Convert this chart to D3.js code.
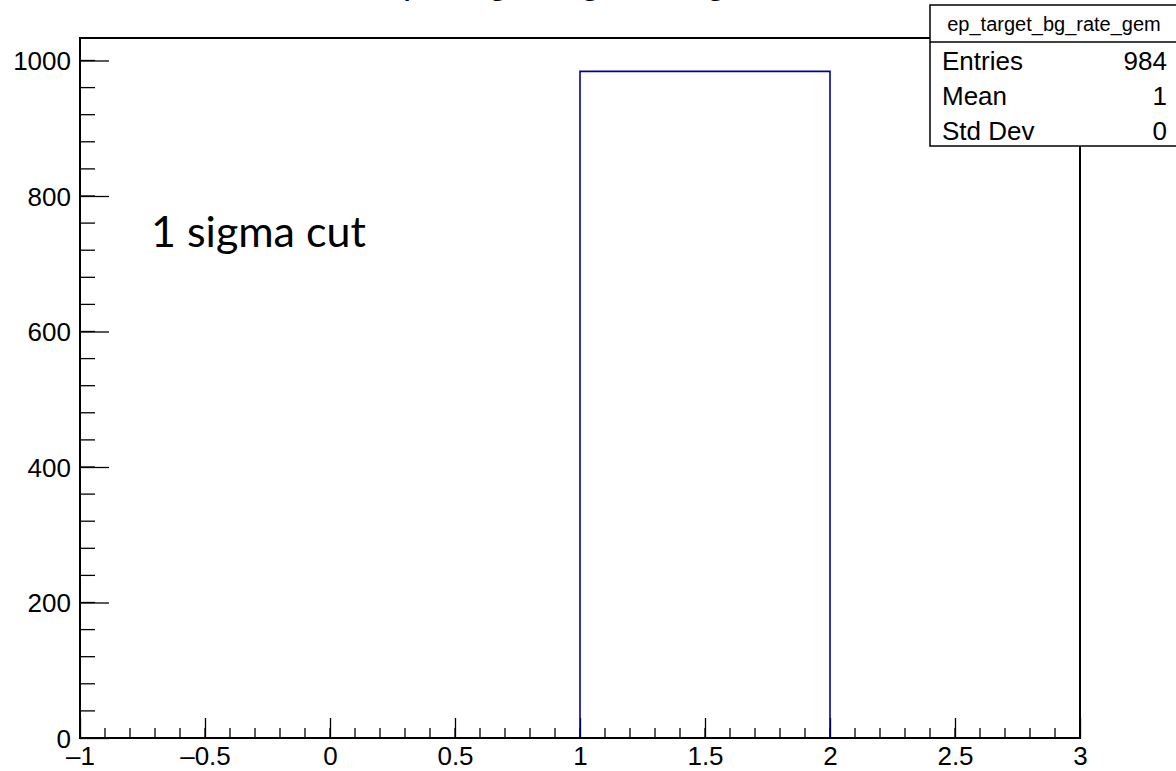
<!DOCTYPE html>
<html>
<head>
<meta charset="utf-8">
<script src="https://cdn.jsdelivr.net/npm/d3@7"></script>
<style>
  body { margin: 0; background: #fff; }
  svg { display: block; }
</style>
</head>
<body>
<div id="chart"></div>
<script>
var w = 1176;
var h = 771;

// histogram bins (low edges) and contents
var binEdges = [-1, 0, 1, 2, 3];
var binCounts = [0, 0, 984, 0];

var xTicks = [-1, -0.5, 0, 0.5, 1, 1.5, 2, 2.5, 3];
var yTicks = [0, 200, 400, 600, 800, 1000];

var histName = "ep_target_bg_rate_gem";
var statLabels = ["Entries", "Mean", "Std Dev"];
var statValues = ["984", "1", "0"];
var note = "1 sigma cut";

var frame = {left: 80, right: 1080, top: 38, bottom: 738};

var x = d3.scaleLinear().domain([-1, 3]).range([frame.left, frame.right]);
var y = d3.scaleLinear().domain([0, 984 * 1.05]).range([frame.bottom, frame.top]);

var svg = d3.select("#chart")
            .append("svg")
                .attr("width", w)
                .attr("height", h);

var helv = "'Liberation Sans', Arial, Helvetica, sans-serif";

// title, mostly off the top of the picture
svg.append("text")
    .attr("x", 580)
    .attr("y", -7)
    .attr("text-anchor", "middle")
    .style("font-family", helv)
    .style("font-size", "37px")
    .text(histName);

// minor ticks
var xMinor = d3.range(-1, 3.0001, 0.1);
var yMinor = d3.range(0, 1033, 40);

svg.append("g").selectAll("line")
    .data(xMinor)
    .enter().append("line")
        .attr("x1", function(d) { return x(d); })
        .attr("x2", function(d) { return x(d); })
        .attr("y1", frame.bottom)
        .attr("y2", frame.bottom - 10)
        .attr("stroke", "#000")
        .attr("stroke-width", 1.3);

svg.append("g").selectAll("line")
    .data(yMinor)
    .enter().append("line")
        .attr("x1", frame.left)
        .attr("x2", frame.left + 15)
        .attr("y1", function(d) { return y(d); })
        .attr("y2", function(d) { return y(d); })
        .attr("stroke", "#000")
        .attr("stroke-width", 1.3);

// major ticks via d3 axes
var xAxis = svg.append("g")
    .attr("transform", "translate(0," + frame.bottom + ")")
    .call(d3.axisTop(x).tickValues(xTicks).tickSize(20).tickFormat(""));
var xLab = svg.append("g")
    .attr("transform", "translate(0," + frame.bottom + ")")
    .call(d3.axisBottom(x).tickValues(xTicks).tickSize(0).tickPadding(9)
        .tickFormat(function(d) { return d < 0 ? "\u2013" + Math.abs(d) : d; }));
var yAxis = svg.append("g")
    .attr("transform", "translate(" + frame.left + ",0)")
    .call(d3.axisRight(y).tickValues(yTicks).tickSize(29).tickFormat(""));
var yLab = svg.append("g")
    .attr("transform", "translate(" + frame.left + ",0)")
    .call(d3.axisLeft(y).tickValues(yTicks).tickSize(0).tickPadding(9)
        .tickFormat(d3.format("d")));

[xAxis, xLab, yAxis, yLab].forEach(function(g) {
    g.select(".domain").remove();
    g.selectAll("line").attr("stroke", "#000").attr("stroke-width", 1.3);
    g.selectAll("text")
        .attr("fill", "#000")
        .style("font-family", helv)
        .style("font-size", "26px");
});
xLab.selectAll("text").attr("dy", "0.71em");
yLab.selectAll("text").attr("dy", "0.36em");

// histogram outline
var pts = [];
binCounts.forEach(function(c, i) {
    pts.push([binEdges[i], c]);
    pts.push([binEdges[i + 1], c]);
});
var line = d3.line()
    .x(function(d) { return x(d[0]); })
    .y(function(d) { return y(d[1]); })
    .curve(d3.curveLinear);

svg.append("path")
    .datum(pts)
    .attr("d", line)
    .attr("fill", "none")
    .attr("stroke", "#0000a0")
    .attr("stroke-width", 1.6);

// frame
svg.append("rect")
    .attr("x", frame.left)
    .attr("y", frame.top)
    .attr("width", frame.right - frame.left)
    .attr("height", frame.bottom - frame.top)
    .attr("fill", "none")
    .attr("stroke", "#000")
    .attr("stroke-width", 2);

// note text
svg.append("text")
    .attr("x", 151)
    .attr("y", 247)
    .style("font-family", "Lato, 'Open Sans', sans-serif")
    .style("font-size", "43px")
    .text(note);

// stats box
var box = svg.append("g");
box.append("rect")
    .attr("x", 930)
    .attr("y", 5)
    .attr("width", 250)
    .attr("height", 141)
    .attr("fill", "#fff")
    .attr("stroke", "#000")
    .attr("stroke-width", 1.5);
box.append("line")
    .attr("x1", 930).attr("x2", 1180)
    .attr("y1", 42).attr("y2", 42)
    .attr("stroke", "#000")
    .attr("stroke-width", 1.5);
box.append("text")
    .attr("x", 1054)
    .attr("y", 31)
    .attr("text-anchor", "middle")
    .style("font-family", helv)
    .style("font-size", "20px")
    .text(histName);

var rows = box.selectAll("g.row")
    .data(statLabels)
    .enter()
        .append("g")
            .attr("class", "row");
rows.append("text")
    .attr("x", 942)
    .attr("y", function(d, i) { return 70 + i * 35; })
    .style("font-family", helv)
    .style("font-size", "26px")
    .text(function(d) { return d; });
rows.append("text")
    .attr("x", 1167)
    .attr("y", function(d, i) { return 70 + i * 35; })
    .attr("text-anchor", "end")
    .style("font-family", helv)
    .style("font-size", "26px")
    .text(function(d, i) { return statValues[i]; });
</script>
</body>
</html>
